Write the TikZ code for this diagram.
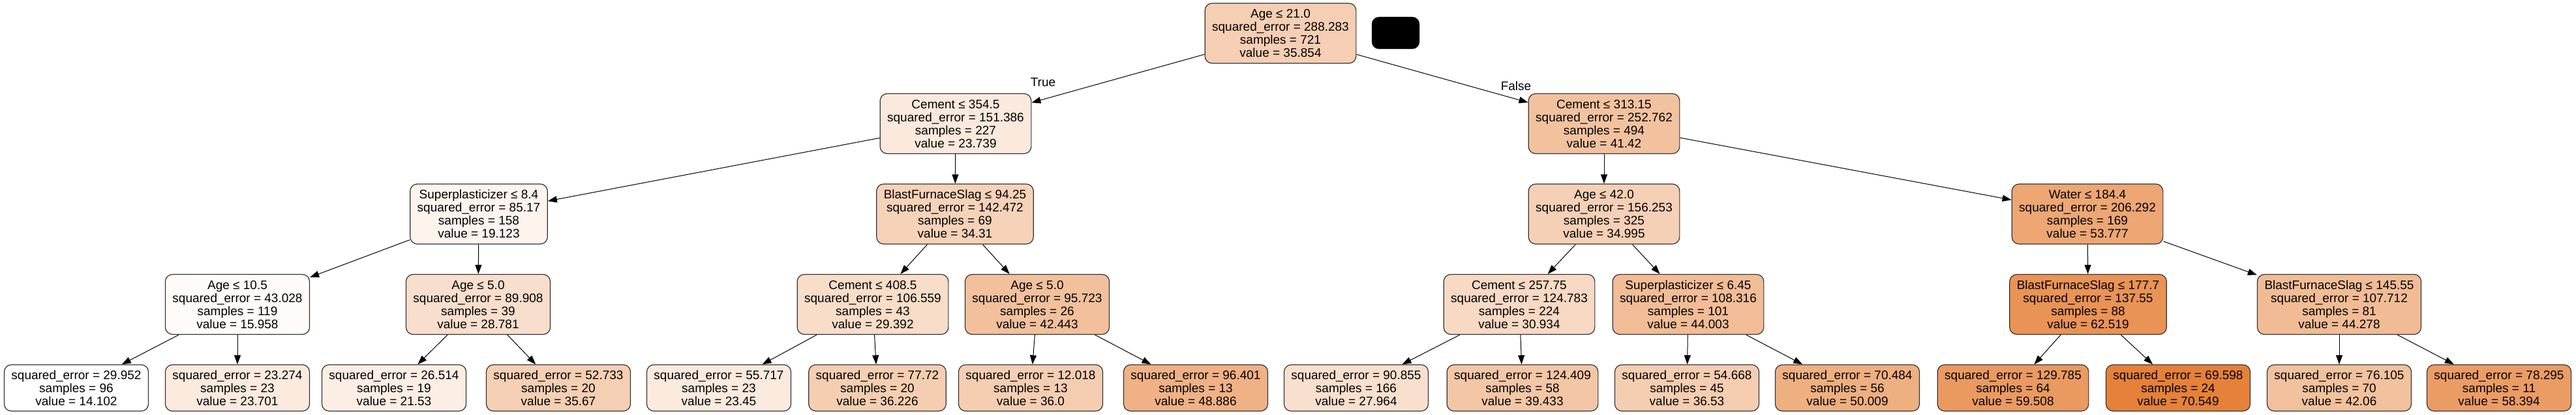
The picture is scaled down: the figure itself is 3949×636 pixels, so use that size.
\documentclass[tikz,border=0pt]{standalone}
\usepackage{fontspec}
\setmainfont{Liberation Sans}
\usetikzlibrary{arrows.meta}
\definecolor{treeorange}{RGB}{229,129,57}
\begin{document}
\begin{tikzpicture}[x=1pt,y=-1pt,
  treenode/.style={draw=black!80,line width=1.2pt,rounded corners=11pt,align=center,inner xsep=11pt,font=\fontsize{19}{20}\selectfont},
  splitbox/.style={treenode,minimum height=92pt},
  leafbox/.style={treenode,minimum height=71pt},
  treeedge/.style={line width=1pt,-{Triangle[length=14pt,width=10pt]}},
  edgelabel/.style={font=\fontsize{19}{20}\selectfont,inner sep=0pt}]
\path[fill=white,use as bounding box] (0,0) rectangle (3949,636);
\begin{scope}[]
\node[splitbox,fill=treeorange!38.5!white] (n0) at (1963,51) {Age ≤ 21.0\\squared\_error = 288.283\\samples = 721\\value = 35.854};
\node[fill=black,draw=black!80,rounded corners=11pt,minimum width=73pt,minimum height=49pt] (mask) at (2139.5,50.5) {};
\end{scope}
\begin{scope}[]
\node[splitbox,fill=treeorange!17.1!white] (n1) at (1465,189.5) {Cement ≤ 354.5\\squared\_error = 151.386\\samples = 227\\value = 23.739};
\node[splitbox,fill=treeorange!48.4!white] (n16) at (2459,189.5) {Cement ≤ 313.15\\squared\_error = 252.762\\samples = 494\\value = 41.42};
\end{scope}
\begin{scope}[]
\node[splitbox,fill=treeorange!8.9!white] (n2) at (734,328) {Superplasticizer ≤ 8.4\\squared\_error = 85.17\\samples = 158\\value = 19.123};
\node[splitbox,fill=treeorange!35.8!white] (n9) at (1464,328) {BlastFurnaceSlag ≤ 94.25\\squared\_error = 142.472\\samples = 69\\value = 34.31};
\node[splitbox,fill=treeorange!37.0!white] (n17) at (2459,328) {Age ≤ 42.0\\squared\_error = 156.253\\samples = 325\\value = 34.995};
\node[splitbox,fill=treeorange!70.3!white] (n24) at (3200,328) {Water ≤ 184.4\\squared\_error = 206.292\\samples = 169\\value = 53.777};
\end{scope}
\begin{scope}[]
\node[splitbox,fill=treeorange!3.3!white] (n3) at (364,466.5) {Age ≤ 10.5\\squared\_error = 43.028\\samples = 119\\value = 15.958};
\node[splitbox,fill=treeorange!26.0!white] (n6) at (733,466.5) {Age ≤ 5.0\\squared\_error = 89.908\\samples = 39\\value = 28.781};
\node[splitbox,fill=treeorange!27.1!white] (n10) at (1338,466.5) {Cement ≤ 408.5\\squared\_error = 106.559\\samples = 43\\value = 29.392};
\node[splitbox,fill=treeorange!50.2!white] (n13) at (1590,466.5) {Age ≤ 5.0\\squared\_error = 95.723\\samples = 26\\value = 42.443};
\node[splitbox,fill=treeorange!29.8!white] (n18) at (2329,466.5) {Cement ≤ 257.75\\squared\_error = 124.783\\samples = 224\\value = 30.934};
\node[splitbox,fill=treeorange!53.0!white] (n21) at (2588,466.5) {Superplasticizer ≤ 6.45\\squared\_error = 108.316\\samples = 101\\value = 44.003};
\node[splitbox,fill=treeorange!85.8!white] (n25) at (3201,466.5) {BlastFurnaceSlag ≤ 177.7\\squared\_error = 137.55\\samples = 88\\value = 62.519};
\node[splitbox,fill=treeorange!53.5!white] (n28) at (3586,466.5) {BlastFurnaceSlag ≤ 145.55\\squared\_error = 107.712\\samples = 81\\value = 44.278};
\end{scope}
\begin{scope}[]
\node[leafbox,fill=white] (n4) at (117,594.5) {squared\_error = 29.952\\samples = 96\\value = 14.102};
\node[leafbox,fill=treeorange!17.0!white] (n5) at (364,594.5) {squared\_error = 23.274\\samples = 23\\value = 23.701};
\node[leafbox,fill=treeorange!13.2!white] (n7) at (604,594.5) {squared\_error = 26.514\\samples = 19\\value = 21.53};
\node[leafbox,fill=treeorange!38.2!white] (n8) at (856,594.5) {squared\_error = 52.733\\samples = 20\\value = 35.67};
\node[leafbox,fill=treeorange!16.6!white] (n11) at (1102,594.5) {squared\_error = 55.717\\samples = 23\\value = 23.45};
\node[leafbox,fill=treeorange!39.2!white] (n12) at (1345,594.5) {squared\_error = 77.72\\samples = 20\\value = 36.226};
\node[leafbox,fill=treeorange!38.8!white] (n14) at (1580,594.5) {squared\_error = 12.018\\samples = 13\\value = 36.0};
\node[leafbox,fill=treeorange!61.6!white] (n15) at (1833,594.5) {squared\_error = 96.401\\samples = 13\\value = 48.886};
\node[leafbox,fill=treeorange!24.6!white] (n19) at (2079,594.5) {squared\_error = 90.855\\samples = 166\\value = 27.964};
\node[leafbox,fill=treeorange!44.9!white] (n20) at (2334,594.5) {squared\_error = 124.409\\samples = 58\\value = 39.433};
\node[leafbox,fill=treeorange!39.7!white] (n22) at (2586,594.5) {squared\_error = 54.668\\samples = 45\\value = 36.53};
\node[leafbox,fill=treeorange!63.6!white] (n23) at (2832,594.5) {squared\_error = 70.484\\samples = 56\\value = 50.009};
\node[leafbox,fill=treeorange!80.4!white] (n26) at (3086,594.5) {squared\_error = 129.785\\samples = 64\\value = 59.508};
\node[leafbox,fill=treeorange!100!white] (n27) at (3339,594.5) {squared\_error = 69.598\\samples = 24\\value = 70.549};
\node[leafbox,fill=treeorange!49.5!white] (n29) at (3586,594.5) {squared\_error = 76.105\\samples = 70\\value = 42.06};
\node[leafbox,fill=treeorange!78.5!white] (n30) at (3831,594.5) {squared\_error = 78.295\\samples = 11\\value = 58.394};
\end{scope}
\begin{scope}[treeedge]
\draw (n0) -- (n1);
\draw (n0) -- (n16);
\draw (n1) -- (n2);
\draw (n1) -- (n9);
\draw (n16) -- (n17);
\draw (n16) -- (n24);
\draw (n2) -- (n3);
\draw (n2) -- (n6);
\draw (n9) -- (n10);
\draw (n9) -- (n13);
\draw (n17) -- (n18);
\draw (n17) -- (n21);
\draw (n24) -- (n25);
\draw (n24) -- (n28);
\draw (n3) -- (n4);
\draw (n3) -- (n5);
\draw (n6) -- (n7);
\draw (n6) -- (n8);
\draw (n10) -- (n11);
\draw (n10) -- (n12);
\draw (n13) -- (n14);
\draw (n13) -- (n15);
\draw (n18) -- (n19);
\draw (n18) -- (n20);
\draw (n21) -- (n22);
\draw (n21) -- (n23);
\draw (n25) -- (n26);
\draw (n25) -- (n27);
\draw (n28) -- (n29);
\draw (n28) -- (n30);
\end{scope}
\node[edgelabel] (lbltrue) at (1599,126) {True};
\node[edgelabel] (lblfalse) at (2324,132) {False};
\end{tikzpicture}
\end{document}
